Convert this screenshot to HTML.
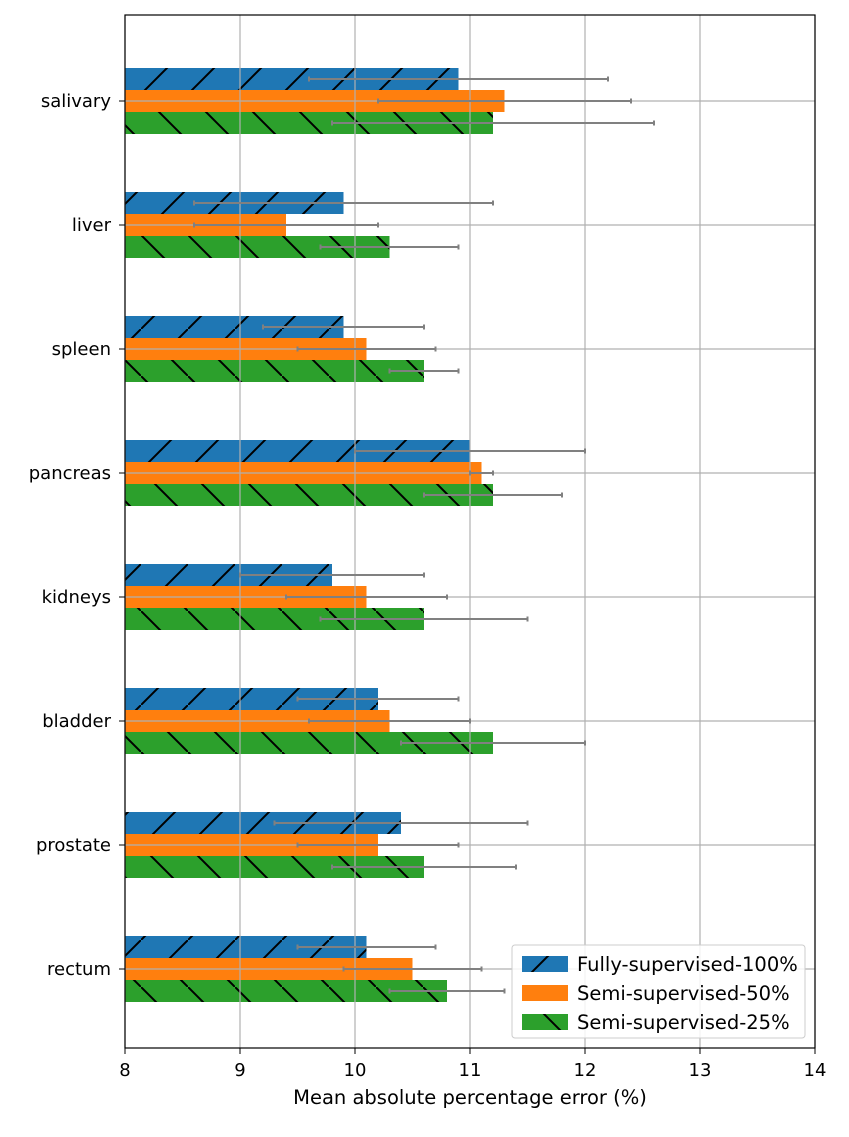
<!DOCTYPE html>
<html><head><meta charset="utf-8"><style>body{margin:0;background:#fff}svg text{font-family:"DejaVu Sans","Liberation Sans",sans-serif;font-size:18px;fill:#000}svg text.big{font-size:19.5px}</style></head>
<body>
<svg id="chart" width="849" height="1132" xmlns="http://www.w3.org/2000/svg">
<defs>
<pattern id="hf" patternUnits="userSpaceOnUse" width="47" height="47"><line x1="-2" y1="49" x2="49" y2="-2" stroke="#000" stroke-width="2"/></pattern>
<pattern id="hb" patternUnits="userSpaceOnUse" width="47" height="47"><line x1="-2" y1="-2" x2="49" y2="49" stroke="#000" stroke-width="2"/></pattern>
</defs>
<g id="bars"></g><g id="grid"></g><g id="errs"></g><g id="axes"></g><g id="legend"></g>
</svg>
<script>
const categories=["salivary","liver","spleen","pancreas","kidneys","bladder","prostate","rectum"];
const fully=[10.9,9.9,9.9,11.0,9.8,10.2,10.4,10.1];
const fullyLo=[9.6,8.6,9.2,10.0,9.0,9.5,9.3,9.5];
const fullyHi=[12.2,11.2,10.6,12.0,10.6,10.9,11.5,10.7];
const semi50=[11.3,9.4,10.1,11.1,10.1,10.3,10.2,10.5];
const semi50Lo=[10.2,8.6,9.5,11.0,9.4,9.6,9.5,9.9];
const semi50Hi=[12.4,10.2,10.7,11.2,10.8,11.0,10.9,11.1];
const semi25=[11.2,10.3,10.6,11.2,10.6,11.2,10.6,10.8];
const semi25Lo=[9.8,9.7,10.3,10.6,9.7,10.4,9.8,10.3];
const semi25Hi=[12.6,10.9,10.9,11.8,11.5,12.0,11.4,11.3];
const xTicks=[8,9,10,11,12,13,14];
const seriesNames=["Fully-supervised-100%","Semi-supervised-50%","Semi-supervised-25%"];
const NS="http://www.w3.org/2000/svg";
const L=125,R=815,T=15,B=1048;
const x=v=>L+(v-8)*(R-L)/6;
const y=i=>101+i*124;
function mk(p,tag,a){const e=document.createElementNS(NS,tag);for(const k in a)e.setAttribute(k,a[k]);document.getElementById(p).appendChild(e);return e;}
const series=[[fully,fullyLo,fullyHi,"#1f77b4","url(#hf)",-22],[semi50,semi50Lo,semi50Hi,"#ff7f0e",null,0],[semi25,semi25Lo,semi25Hi,"#2ca02c","url(#hb)",22]];
series.forEach((s,si)=>{categories.forEach((c,i)=>{
 const cy=y(i)+s[5];
 let r=mk("bars","rect",{x:L,y:cy-11,width:x(s[0][i])-L,height:22,fill:s[3]});
 
 
 if(s[4]){let h=mk("bars","rect",{x:L,y:cy-11,width:x(s[0][i])-L,height:22,fill:s[4]});
 
 }
 let e=mk("errs","path",{d:`M${x(s[1][i])},${cy}H${x(s[2][i])}M${x(s[1][i])},${cy-2.5}v5M${x(s[2][i])},${cy-2.5}v5`,stroke:"#808080","stroke-width":2,fill:"none"});
 
 
});});
xTicks.forEach(t=>{
 let g=mk("grid","line",{x1:x(t),x2:x(t),y1:T,y2:B,stroke:"#b0b0b0","stroke-width":1.2});
 
 
 mk("axes","line",{x1:x(t),x2:x(t),y1:B,y2:B+6,stroke:"#000"});
 let tx=mk("axes","text",{x:x(t),y:B+28,"text-anchor":"middle"});tx.textContent=t;
 
 
});
categories.forEach((c,i)=>{
 let g=mk("grid","line",{x1:L,x2:R,y1:y(i),y2:y(i),stroke:"#b0b0b0","stroke-width":1.2});
 
 
 mk("axes","line",{x1:L-6,x2:L,y1:y(i),y2:y(i),stroke:"#000"});
 let tx=mk("axes","text",{x:L-14,y:y(i)+6,"text-anchor":"end"});tx.textContent=c;
 
 
});
let fr=mk("axes","rect",{x:L,y:T,width:R-L,height:B-T,fill:"none",stroke:"#000","stroke-width":1.2});


let xl=mk("axes","text",{x:470,y:1104,"text-anchor":"middle",class:"big"});xl.textContent="Mean absolute percentage error (%)";


let lb=mk("legend","rect",{x:512,y:945,width:293,height:93,rx:3,fill:"#fff","fill-opacity":0.85,stroke:"#ccc"});


series.forEach((s,si)=>{
 const ly=964+si*29;
 mk("legend","rect",{x:522,y:ly-8,width:46,height:16,fill:s[3]});
 if(s[4])mk("legend","rect",{x:522,y:ly-8,width:46,height:16,fill:s[4]});
 let t=mk("legend","text",{x:577,y:ly+7,class:"big"});t.textContent=seriesNames[si];
 
 
});
</script>
</body></html>
